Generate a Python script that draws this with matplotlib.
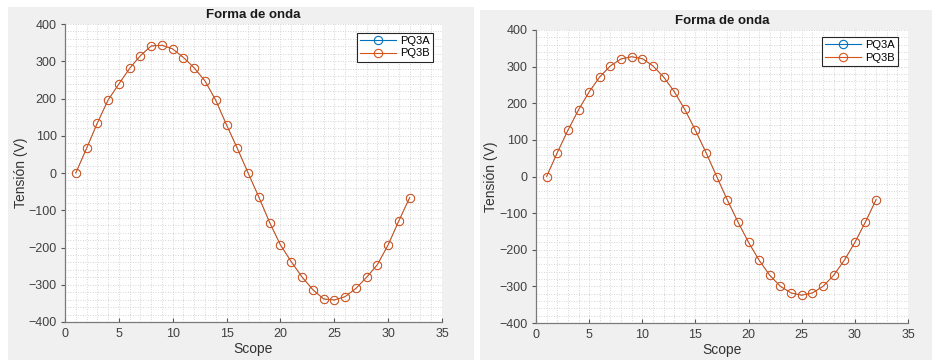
import matplotlib
matplotlib.use("Agg")
import matplotlib.pyplot as plt
from matplotlib.patches import Rectangle
from matplotlib.ticker import MultipleLocator

plt.rcParams['font.family'] = ['Liberation Sans', 'DejaVu Sans']

scope = list(range(1, 33))

# tension samples for the two captures (V)
pq3a_left = [0, 66, 134, 196, 239, 281, 315, 341, 343, 333, 310, 282, 247, 195, 129, 66,
             0, -65, -133, -193, -238, -279, -313, -338, -341, -332, -310, -280, -246, -193, -128, -66]
pq3b_left = list(pq3a_left)

pq3a_right = [0, 65, 126, 182, 231, 272, 302, 321, 327, 322, 302, 272, 232, 183, 126, 65,
              0, -64, -124, -180, -229, -270, -300, -318, -324, -318, -300, -270, -229, -180, -124, -63]
pq3b_right = list(pq3a_right)

series_names = ['PQ3A', 'PQ3B']
blue = '#0072BD'
orange = '#D95319'

W, H = 932, 360
fig = plt.figure(figsize=(W / 100, H / 100), dpi=100)
fig.patch.set_facecolor('white')

# grey figure panels behind each plot
for x0, y0, x1, y1 in [(8, 7, 474, 360), (480, 10, 932, 360)]:
    fig.patches.append(Rectangle((x0 / W, 1 - y1 / H), (x1 - x0) / W, (y1 - y0) / H,
                                 transform=fig.transFigure, facecolor='#F0F0F0',
                                 edgecolor='none', zorder=-10))


def px_axes(x0, y0, x1, y1):
    return fig.add_axes([x0 / W, 1 - y1 / H, (x1 - x0) / W, (y1 - y0) / H])


def draw_panel(ax, a, b, leg_anchor, ylab_x):
    ax.set_facecolor('white')
    # PQ3A sits underneath PQ3B, keep it thinner so it stays hidden
    ax.plot(scope, a, '-o', color=blue, mfc='none', ms=6, mew=0.3, lw=0.4)
    ax.plot(scope, b, '-o', color=orange, mfc='none', ms=6, mew=0.75, lw=0.75)
    ax.plot([], [], '-o', color=blue, mfc='none', ms=6, mew=0.8, lw=0.8, label=series_names[0])
    ax.plot([], [], '-o', color=orange, mfc='none', ms=6, mew=0.8, lw=0.8, label=series_names[1])
    ax.set_xlim(0, 35)
    ax.set_ylim(-400, 400)
    ax.xaxis.set_major_locator(MultipleLocator(5))
    ax.xaxis.set_minor_locator(MultipleLocator(1))
    ax.yaxis.set_major_locator(MultipleLocator(100))
    ax.yaxis.set_minor_locator(MultipleLocator(20))
    ax.grid(which='both', linestyle=(0, (1, 2)), color='#C8C8C8', linewidth=0.6)
    ax.set_axisbelow(True)
    for s in ['top', 'right']:
        ax.spines[s].set_visible(False)
    for s in ['left', 'bottom']:
        ax.spines[s].set_color('#7A7A7A')
        ax.spines[s].set_linewidth(0.9)
    ax.tick_params(which='minor', length=0)
    ax.tick_params(axis='x', which='major', direction='in', length=3, color='#555555',
                   labelsize=9, labelcolor='#404040', pad=4)
    ax.tick_params(axis='y', which='major', direction='out', length=3, color='#555555',
                   labelsize=9, labelcolor='#404040', pad=3)
    ax.set_title('Forma de onda', fontsize=9.5, fontweight='bold', color='#1A1A1A', pad=4)
    ax.set_xlabel('Scope', fontsize=10, color='#333333', labelpad=2)
    ax.set_ylabel('Tensión (V)', fontsize=10, color='#333333')
    ax.yaxis.set_label_coords(ylab_x, 0.5)
    leg = ax.legend(loc='upper right', bbox_to_anchor=leg_anchor, borderaxespad=0,
                    fancybox=False, framealpha=1, edgecolor='#262626', fontsize=8,
                    handlelength=3.2, handletextpad=0.4, borderpad=0.3, labelspacing=0.2)
    leg.get_frame().set_linewidth(0.8)


ax1 = px_axes(65, 24, 442, 322)
draw_panel(ax1, pq3a_left, pq3b_left, (0.976, 0.97), -0.098)

ax2 = px_axes(536, 30, 908, 323)
draw_panel(ax2, pq3a_right, pq3b_right, (0.973, 0.976), -0.102)

fig.savefig('out.png', dpi=100, facecolor=fig.get_facecolor())
